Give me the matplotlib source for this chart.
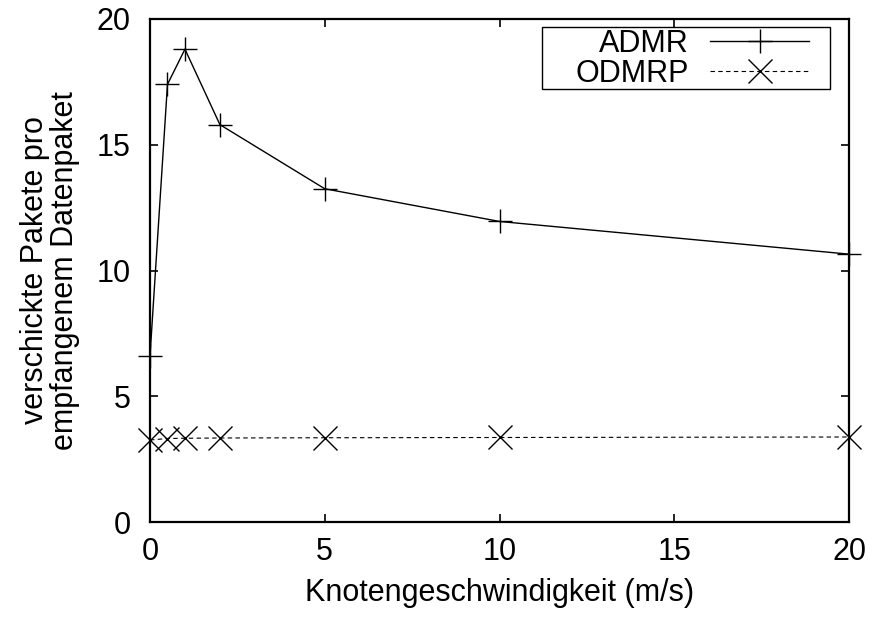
import matplotlib
matplotlib.use('Agg')
import matplotlib.pyplot as plt
from matplotlib.patches import Rectangle

plt.rcParams['font.family'] = ['Liberation Sans', 'DejaVu Sans']

# Daten
speed = [0, 0.5, 1, 2, 5, 10, 20]
admr = [6.6, 17.4, 18.8, 15.8, 13.25, 11.95, 10.65]
odmrp = [3.26, 3.32, 3.33, 3.34, 3.35, 3.36, 3.38]
xticks = [0, 5, 10, 15, 20]
yticks = [0, 5, 10, 15, 20]

FS = 22

fig = plt.figure(figsize=(8.7, 6.22), dpi=100)
ax = fig.add_axes([150/870, 1-522/622, 699/870, 503/622])

ax.plot(speed, admr, color='black', lw=1.0, marker='+', ms=17, mew=1.0,
        label='ADMR', clip_on=False)
ax.plot(speed, odmrp, color='black', lw=0.8, ls=(0, (4, 3)), marker='x',
        ms=17, mew=1.0, label='ODMRP', clip_on=False)

ax.set_xlim(0, 20)
ax.set_ylim(0, 20)
ax.set_xticks(xticks)
ax.set_yticks(yticks)
ax.tick_params(direction='in', length=6, width=1.2, top=True, right=True,
               labelsize=FS)
ax.tick_params(axis='x', pad=11)
ax.tick_params(axis='y', pad=14)
for s in ax.spines.values():
    s.set_linewidth(1.6)

ax.set_xlabel('Knotengeschwindigkeit (m/s)', fontsize=FS, labelpad=8)
ax.set_ylabel('verschickte Pakete pro\nempfangenem Datenpaket', fontsize=FS,
              labelpad=12, linespacing=1.0)

# Legendenrahmen wie bei gnuplot (breiter als der Inhalt)
box = Rectangle((0.561, 0.861), 0.412, 0.123, transform=ax.transAxes,
                facecolor='white', edgecolor='black', lw=1.0,
                clip_on=False, zorder=4)
ax.add_patch(box)

leg = ax.legend(loc='upper right', bbox_to_anchor=(0.9456, 0.984),
                borderaxespad=0, markerfirst=False, fontsize=FS,
                handlelength=3.24, frameon=False, borderpad=0.05,
                labelspacing=0.0, handletextpad=0.72)
leg.set_zorder(5)
for t in leg.get_texts():
    t.set_ha('right')

fig.savefig('out.png', dpi=100)
